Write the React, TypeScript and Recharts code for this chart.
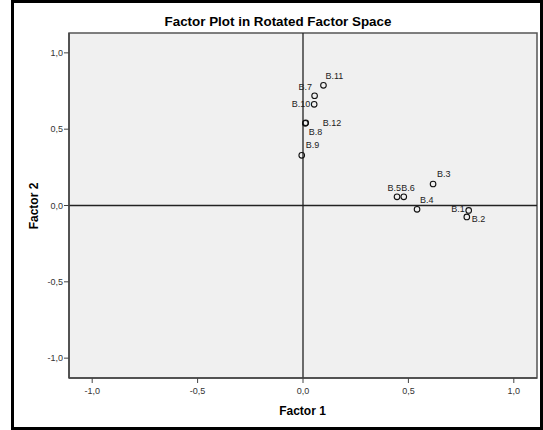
import {
  Customized,
  ReferenceArea,
  ReferenceLine,
  Scatter,
  ScatterChart,
  XAxis,
  YAxis,
} from "recharts";

// loadings
const itemLabels = ["B.1", "B.2", "B.3", "B.4", "B.5", "B.6", "B.7", "B.8", "B.9", "B.10", "B.11", "B.12"];
const factor1 = [0.786, 0.777, 0.617, 0.541, 0.446, 0.478, 0.055, 0.011, -0.006, 0.053, 0.097, 0.013];
const factor2 = [-0.032, -0.075, 0.141, -0.025, 0.057, 0.057, 0.719, 0.538, 0.329, 0.663, 0.787, 0.542];
const axisTicks = [-1, -0.5, 0, 0.5, 1];

const X_DOMAIN: [number, number] = [-1.11, 1.11];
const Y_DOMAIN: [number, number] = [-1.13, 1.13];

const FONT = "Arial, 'Liberation Sans', Helvetica, sans-serif";

// where each point label sits relative to its marker (dx, dy, anchor)
const LABEL_PLACEMENT: Record<string, [number, number, "start" | "end"]> = {
  "B.1": [-4, -1, "end"],
  "B.2": [5, 2, "start"],
  "B.3": [4, -9.5, "start"],
  "B.4": [3, -9, "start"],
  "B.5": [-9.5, -9, "start"],
  "B.6": [-2.5, -9, "start"],
  "B.7": [-2.5, -8.5, "end"],
  "B.8": [3.5, 8.5, "start"],
  "B.9": [4, -10, "start"],
  "B.10": [-4, 0, "end"],
  "B.11": [2, -9.5, "start"],
  "B.12": [17, 0, "start"],
};

const points = itemLabels.map((label, i) => ({
  label,
  x: factor1[i],
  y: factor2[i],
}));

const formatTick = (v: number) => v.toFixed(1).replace(".", ",");

function renderPoint(props: any) {
  const { cx, cy, payload } = props;
  const [dx, dy, anchor] = LABEL_PLACEMENT[payload.label] ?? [4, -9, "start"];
  return (
    <g>
      <circle cx={cx} cy={cy} r={2.8} fill="none" stroke="#111" strokeWidth={1.1} />
      <text
        x={cx + dx}
        y={cy + dy}
        textAnchor={anchor}
        dominantBaseline="central"
        fontSize={9}
        fontFamily={FONT}
        fill="#222"
      >
        {payload.label}
      </text>
    </g>
  );
}

function Titles() {
  return (
    <g fontFamily={FONT} fontWeight="bold" fill="#000">
      <text x={278} y={26} textAnchor="middle" fontSize={13.4}>
        Factor Plot in Rotated Factor Space
      </text>
      <text x={302.5} y={415} textAnchor="middle" fontSize={12}>
        Factor 1
      </text>
      <text
        x={34}
        y={206}
        textAnchor="middle"
        dominantBaseline="central"
        fontSize={12}
        transform="rotate(-90 34 206)"
      >
        Factor 2
      </text>
    </g>
  );
}

export default function App() {
  return (
    <div style={{ position: "absolute", left: 0, top: 0, width: 543, height: 430, background: "#fff" }}>
      <ScatterChart width={543} height={430} margin={{ top: 33, right: 6, bottom: 0, left: 0 }}>
        <ReferenceArea
          x1={X_DOMAIN[0]}
          x2={X_DOMAIN[1]}
          y1={Y_DOMAIN[0]}
          y2={Y_DOMAIN[1]}
          fill="#f0f0f0"
          fillOpacity={1}
          stroke="#555"
          strokeWidth={1.5}
          ifOverflow="visible"
        />
        <XAxis
          type="number"
          dataKey="x"
          domain={X_DOMAIN}
          ticks={axisTicks}
          allowDataOverflow
          height={52}
          tickFormatter={formatTick}
          tickSize={5}
          tickMargin={5}
          axisLine={{ stroke: "#444", strokeWidth: 1.5 }}
          tickLine={{ stroke: "#444" }}
          tick={{ fontSize: 9, fontFamily: FONT, fill: "#333" }}
        />
        <YAxis
          type="number"
          dataKey="y"
          domain={Y_DOMAIN}
          ticks={axisTicks}
          allowDataOverflow
          width={69}
          tickFormatter={formatTick}
          tickSize={5}
          tickMargin={1}
          axisLine={{ stroke: "#444", strokeWidth: 1.5 }}
          tickLine={{ stroke: "#444" }}
          tick={{ fontSize: 9, fontFamily: FONT, fill: "#333" }}
        />
        <ReferenceLine x={0} stroke="#222" strokeWidth={1.3} />
        <ReferenceLine y={0} stroke="#222" strokeWidth={1.3} />
        <Scatter data={points} shape={renderPoint} isAnimationActive={false} />
        <Customized component={Titles} />
      </ScatterChart>
      <div
        style={{
          position: "absolute",
          left: 11,
          top: 0,
          width: 532,
          height: 430,
          border: "3px solid #000",
          boxSizing: "border-box",
          pointerEvents: "none",
        }}
      />
    </div>
  );
}
